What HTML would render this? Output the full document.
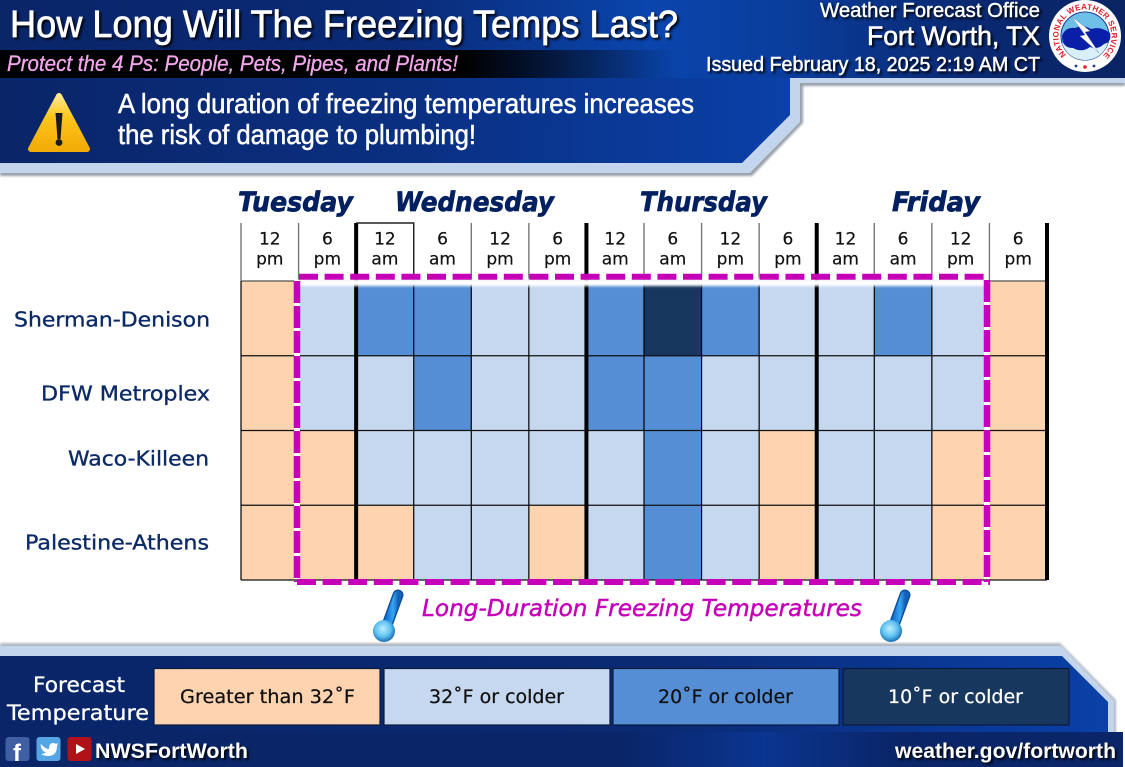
<!DOCTYPE html>
<html lang="en">
<head>
<meta charset="utf-8">
<title>How Long Will The Freezing Temps Last?</title>
<style>
html,body{margin:0;padding:0;background:#fff;width:1125px;height:767px;overflow:hidden}
svg{display:block}
text{font-family:"Liberation Sans",sans-serif}
.dj{font-family:"DejaVu Sans",sans-serif}
.shadow{filter:drop-shadow(2px 2px 1px rgba(0,0,0,.85))}
</style>
</head>
<body>
<svg id="graphic" xmlns="http://www.w3.org/2000/svg" width="1125" height="767" viewBox="0 0 1125 767">
<defs>
<linearGradient id="headGrad" x1="0" x2="1" y1="0" y2="0">
<stop offset="0" stop-color="#0a2568"/><stop offset=".35" stop-color="#0a2a76"/><stop offset=".58" stop-color="#0a45ad"/><stop offset=".7" stop-color="#0a3d9c"/><stop offset=".85" stop-color="#0a2a74"/><stop offset="1" stop-color="#0a2363"/>
</linearGradient>
<linearGradient id="panelGrad" x1="0" x2="1" y1="0" y2="0">
<stop offset="0" stop-color="#0a2568"/><stop offset=".5" stop-color="#0a2f80"/><stop offset="1" stop-color="#0a40a8"/>
</linearGradient>
<linearGradient id="stripGrad" x1="0" x2="1" y1="0" y2="0">
<stop offset="0" stop-color="#000"/><stop offset=".68" stop-color="#000"/><stop offset="1" stop-color="#000" stop-opacity="0"/>
</linearGradient>
<linearGradient id="bottomGrad" x1="0" x2="1" y1="0" y2="0">
<stop offset="0" stop-color="#0a2568"/><stop offset=".6" stop-color="#0a2a74"/><stop offset="1" stop-color="#0a40a8"/>
</linearGradient>
<linearGradient id="footGrad" x1="0" x2="1" y1="0" y2="0">
<stop offset="0" stop-color="#0a2568"/><stop offset=".55" stop-color="#0a2568"/><stop offset=".68" stop-color="#0a3590"/><stop offset=".8" stop-color="#0a2568"/><stop offset="1" stop-color="#0a2568"/>
</linearGradient>
<linearGradient id="yellowGrad" x1="0" x2="0" y1="0" y2="1">
<stop offset="0" stop-color="#ffe98a"/><stop offset=".4" stop-color="#fcc61c"/><stop offset="1" stop-color="#f3ab06"/>
</linearGradient>
<linearGradient id="stemGrad" x1="0" x2="1" y1="0" y2="0">
<stop offset="0" stop-color="#0f6fd6"/><stop offset=".6" stop-color="#39a6f2"/><stop offset="1" stop-color="#1262b8"/>
</linearGradient>
<radialGradient id="bulbGrad" cx=".45" cy=".4" r=".6">
<stop offset="0" stop-color="#bdeeff"/><stop offset=".6" stop-color="#5cc0f0"/><stop offset="1" stop-color="#1c6cb0"/>
</radialGradient>
<filter id="softBlur" x="-5%" y="-100%" width="110%" height="300%"><feGaussianBlur stdDeviation="1.4"/></filter>
<filter id="edgeBlur" x="-2%" y="-5%" width="104%" height="110%"><feGaussianBlur stdDeviation="1"/></filter>
<path id="sealCircle" d="M 1066.3 54.7 A 26.5 26.5 0 1 1 1103.7 54.7"/>
</defs>

<!-- Header panel -->
<g>
<polygon points="0,163 742,163 790,115 790,78 1125,78 1125,86 803,86 803,123 752,176 0,176" fill="#9aa1ab" filter="url(#edgeBlur)"/>
<polygon points="0,163 742,163 790,115 790,78 1125,78 1125,83 800,83 800,122 750,173 0,173" fill="#c3d5ec"/>
<rect x="0" y="0" width="1125" height="78" fill="url(#headGrad)"/>
<polygon points="0,78 790,78 790,115 742,163 0,163" fill="url(#panelGrad)"/>
<rect x="0" y="50" width="680" height="28" fill="url(#stripGrad)"/>
<text class="shadow" x="10" y="37" font-size="38" fill="#fff" stroke="#fff" stroke-width=".7" textLength="668" lengthAdjust="spacingAndGlyphs">How Long Will The Freezing Temps Last?</text>
<text x="7" y="71" font-size="22" font-style="italic" fill="#f2a6ec" stroke="#f2a6ec" stroke-width=".3" textLength="451" lengthAdjust="spacingAndGlyphs">Protect the 4 Ps: People, Pets, Pipes, and Plants!</text>
<text class="shadow" x="1040" y="17" font-size="20" fill="#fff" stroke="#fff" stroke-width=".4" text-anchor="end" textLength="220" lengthAdjust="spacingAndGlyphs">Weather Forecast Office</text>
<text class="shadow" x="1040" y="45" font-size="27" fill="#fff" stroke="#fff" stroke-width=".6" text-anchor="end" textLength="173" lengthAdjust="spacingAndGlyphs">Fort Worth, TX</text>
<text class="shadow" x="1040" y="71" font-size="20" fill="#fff" stroke="#fff" stroke-width=".45" text-anchor="end" textLength="334" lengthAdjust="spacingAndGlyphs">Issued February 18, 2025 2:19 AM CT</text>
<text x="118" y="113" font-size="28" fill="#fff" stroke="#fff" stroke-width=".5" textLength="576" lengthAdjust="spacingAndGlyphs">A long duration of freezing temperatures increases</text>
<text x="118" y="144" font-size="28" fill="#fff" stroke="#fff" stroke-width=".5" textLength="358" lengthAdjust="spacingAndGlyphs">the risk of damage to plumbing!</text>
</g>

<!-- Warning icon -->
<g>
<polygon points="59,96 31,149 87,149" fill="url(#yellowGrad)" stroke="url(#yellowGrad)" stroke-width="6" stroke-linejoin="round"/>
<polygon points="55.5,113 62.5,113 60.5,139 57.5,139" fill="#1a1a1a"/>
<circle cx="59" cy="142.5" r="3.4" fill="#1a1a1a"/>
</g>

<!-- NWS seal -->
<g>
<circle cx="1085" cy="36" r="36" fill="#fff"/>
<circle cx="1085" cy="36" r="24" fill="#6fc0e8" stroke="#1b3c94" stroke-width="1"/>
<path d="M1062 43 A24 24 0 0 0 1108 43 Z" fill="#d8f0fa"/>
<path d="M1062 36 Q1065 27 1075 28 Q1083 24 1091 29 Q1101 26 1110 33 Q1112 42 1104 44 Q1098 50 1090 47 Q1082 53 1073 48 Q1062 48 1062 36 Z" fill="#0a1fa8"/>
<polygon points="1072,17 1090,31 1085,32 1099,53 1080,36 1085,35" fill="#fff" stroke="#8899aa" stroke-width=".5"/>
<text font-size="8" font-weight="bold" fill="#e21d2d" letter-spacing=".25"><textPath href="#sealCircle" startOffset="0">NATIONAL WEATHER SERVICE</textPath></text>
<circle cx="1076" cy="66" r="1.4" fill="#1b3c94"/><circle cx="1094" cy="66" r="1.4" fill="#1b3c94"/><circle cx="1085" cy="67" r="1.8" fill="#e21d2d"/>
</g>

<!-- Day labels -->
<g fill="#002060" stroke="#002060" stroke-width=".7" font-size="27" font-weight="bold" font-style="italic">
<text class="dj" x="238" y="211" textLength="115" lengthAdjust="spacingAndGlyphs">Tuesday</text>
<text class="dj" x="395" y="211" textLength="159" lengthAdjust="spacingAndGlyphs">Wednesday</text>
<text class="dj" x="640" y="211" textLength="127" lengthAdjust="spacingAndGlyphs">Thursday</text>
<text class="dj" x="892" y="211" textLength="88" lengthAdjust="spacingAndGlyphs">Friday</text>
</g>

<!-- Row labels -->
<g fill="#0b2a66" stroke="#0b2a66" stroke-width=".35" font-size="20.5">
<text class="dj" x="14" y="326.5" textLength="196" lengthAdjust="spacingAndGlyphs">Sherman-Denison</text>
<text class="dj" x="41" y="400.5" textLength="169" lengthAdjust="spacingAndGlyphs">DFW Metroplex</text>
<text class="dj" x="68" y="465.5" textLength="141" lengthAdjust="spacingAndGlyphs">Waco-Killeen</text>
<text class="dj" x="25" y="549.5" textLength="184" lengthAdjust="spacingAndGlyphs">Palestine-Athens</text>
</g>

<!-- Heatmap drawn by script -->
<g id="heatmap"></g>

<!-- Freezing duration outline -->
<g fill="none">
<rect x="299" y="279" width="687" height="7" fill="#fff" filter="url(#softBlur)"/>
<line x1="297" y1="280" x2="297" y2="579" stroke="#fff" stroke-width="6"/>
<line x1="987" y1="280" x2="987" y2="579" stroke="#fff" stroke-width="6"/>
<line x1="299" y1="276.8" x2="984" y2="276.8" stroke="#c600b8" stroke-width="6" stroke-dasharray="19 6.6"/>
<line x1="297" y1="281" x2="297" y2="582" stroke="#c600b8" stroke-width="6.5" stroke-dasharray="22 3"/>
<line x1="987" y1="280" x2="987" y2="582" stroke="#c600b8" stroke-width="6.5" stroke-dasharray="22 3"/>
<line x1="297" y1="582" x2="990" y2="582" stroke="#c600b8" stroke-width="6" stroke-dasharray="19 6.6"/>
</g>

<text class="dj" x="422" y="616" font-size="23" font-style="italic" fill="#c600b8" stroke="#c600b8" stroke-width=".45" textLength="440" lengthAdjust="spacingAndGlyphs">Long-Duration Freezing Temperatures</text>

<g>
<line x1="398" y1="595" x2="386" y2="628" stroke="#0d4f9e" stroke-width="11" stroke-linecap="round"/>
<line x1="398" y1="595" x2="386" y2="628" stroke="url(#stemGrad)" stroke-width="8" stroke-linecap="round"/>
<circle cx="384" cy="631" r="11" fill="url(#bulbGrad)"/>
</g>
<g>
<line x1="905" y1="595" x2="893" y2="628" stroke="#0d4f9e" stroke-width="11" stroke-linecap="round"/>
<line x1="905" y1="595" x2="893" y2="628" stroke="url(#stemGrad)" stroke-width="8" stroke-linecap="round"/>
<circle cx="891" cy="631" r="11" fill="url(#bulbGrad)"/>
</g>

<!-- Bottom panel -->
<g>
<polygon points="0,643 1060,643 1116,700 1116,735 0,735" fill="#b4bac3" filter="url(#edgeBlur)"/>
<polygon points="0,646 1061,646 1114,701 1114,735 0,735" fill="#c3d5ec"/>
<polygon points="0,656 1062,656 1108,702 1108,735 0,735" fill="url(#bottomGrad)"/>
<rect x="0" y="732" width="1123" height="35" fill="url(#footGrad)"/>
<text class="dj" x="33" y="692" font-size="21" fill="#fff" stroke="#fff" stroke-width=".3" textLength="92" lengthAdjust="spacingAndGlyphs">Forecast</text>
<text class="dj" x="7" y="720" font-size="21" fill="#fff" stroke="#fff" stroke-width=".3" textLength="142" lengthAdjust="spacingAndGlyphs">Temperature</text>

<g>
<rect x="154" y="668.5" width="226" height="56.5" fill="#fdd3b0" stroke="#0a1a3c" stroke-width="1.2"/>
<text class="dj" x="180" y="703" font-size="19" fill="#111" stroke="#111" stroke-width=".25" textLength="175" lengthAdjust="spacingAndGlyphs">Greater than 32˚F</text>
</g>
<g>
<rect x="384" y="668.5" width="226" height="56.5" fill="#c6d8f0" stroke="#0a1a3c" stroke-width="1.2"/>
<text class="dj" x="429" y="703" font-size="19" fill="#111" stroke="#111" stroke-width=".25" textLength="135" lengthAdjust="spacingAndGlyphs">32˚F or colder</text>
</g>
<g>
<rect x="613" y="668.5" width="226" height="56.5" fill="#558ed5" stroke="#0a1a3c" stroke-width="1.2"/>
<text class="dj" x="658" y="703" font-size="19" fill="#111" stroke="#111" stroke-width=".25" textLength="135" lengthAdjust="spacingAndGlyphs">20˚F or colder</text>
</g>
<g>
<rect x="843" y="668.5" width="226" height="56.5" fill="#17375e" stroke="#0a1a3c" stroke-width="1.2"/>
<text class="dj" x="888" y="703" font-size="19" fill="#fff" stroke="#fff" stroke-width=".25" textLength="135" lengthAdjust="spacingAndGlyphs">10˚F or colder</text>
</g>

<g>
<rect x="5.5" y="737" width="24" height="24" rx="3" fill="#3f5ea3"/>
<text x="13" y="761" font-size="24" font-weight="bold" fill="#fff">f</text>
</g>
<g>
<rect x="36.5" y="737" width="24" height="24" rx="3" fill="#56a6e6"/>
<path d="M41 744 Q45 749 49 749 Q49 743 53 743 Q55 743 56 744 L58 743 L57 746 Q57 756 48 756 Q44 756 41 754 Q44 754 46 752 Q43 752 42 749 Q40 747 41 744 Z" fill="#fff"/>
</g>
<g>
<rect x="67.5" y="737" width="24" height="24" rx="3" fill="#b01218"/>
<polygon points="76,744 76,754 85,749" fill="#fff"/>
</g>
<text class="shadow" x="95" y="758" font-size="21" font-weight="bold" fill="#fff" textLength="153" lengthAdjust="spacingAndGlyphs">NWSFortWorth</text>
<text class="shadow" x="895" y="758" font-size="21" font-weight="bold" fill="#fff" textLength="221" lengthAdjust="spacingAndGlyphs">weather.gov/fortworth</text>
</g>
</svg>

<script>
// Hour labels (Tuesday 12 pm through Friday 6 pm)
const hourLabels = ['12','6','12','6','12','6','12','6','12','6','12','6','12','6'];
const meridiemLabels = ['pm','pm','am','am','pm','pm','am','am','pm','pm','am','am','pm','pm'];

// Temperature tier by period: 0 = above 32F, 1 = 32F or colder, 2 = 20F or colder, 3 = 10F or colder
const regions = ['sherman-denison','dfw-metroplex','waco-killeen','palestine-athens'];
const shermanDenison = [0,1,2,2,1,1,2,3,2,1,1,2,1,0];
const dfwMetroplex   = [0,1,1,2,1,1,2,2,1,1,1,1,1,0];
const wacoKilleen    = [0,0,1,1,1,1,1,2,1,0,1,1,0,0];
const palestineAthens= [0,0,0,1,1,0,1,2,1,0,1,1,0,0];
const tierSeries = [shermanDenison, dfwMetroplex, wacoKilleen, palestineAthens];

const SVG_NS = 'http://www.w3.org/2000/svg';
const GRID_LEFT = 241, GRID_RIGHT = 1047, HEAD_TOP = 223, GRID_TOP = 281, GRID_BOTTOM = 580;
const root = document.getElementById('heatmap');
function xBand(i){ return GRID_LEFT + i * (GRID_RIGHT - GRID_LEFT) / hourLabels.length; }
function yBand(r){ return GRID_TOP + r * (GRID_BOTTOM - GRID_TOP) / regions.length; }
function tierColor(t){
  if (t === 0) return '#fdd3b0';
  if (t === 1) return '#c6d8f0';
  if (t === 2) return '#558ed5';
  return '#17375e';
}
function svgEl(tag, attrs){
  const el = document.createElementNS(SVG_NS, tag);
  for (const k in attrs) el.setAttribute(k, attrs[k]);
  root.appendChild(el);
  return el;
}

tierSeries.forEach(function(series, r){
  series.forEach(function(tier, c){
    const cell = svgEl('rect', {x:xBand(c), y:yBand(r), width:xBand(c+1)-xBand(c), height:yBand(r+1)-yBand(r), fill:tierColor(tier)});
    
    
  });
});

for (let r = 0; r <= regions.length; r++) {
  const rowLine = svgEl('line', {x1:GRID_LEFT, x2:GRID_RIGHT, y1:yBand(r), y2:yBand(r), stroke: r === 0 ? '#555' : '#111', 'stroke-width':1.3});
  
  
}

for (let c = 0; c <= hourLabels.length; c++) {
  const isDayStart = c % 4 === 2;
  const headLine = svgEl('line', {x1:xBand(c), x2:xBand(c), y1:HEAD_TOP, y2:GRID_TOP, stroke: isDayStart ? '#000' : '#777', 'stroke-width': isDayStart ? 4 : 1.4});
  
  
  const bodyLine = svgEl('line', {x1:xBand(c), x2:xBand(c), y1:GRID_TOP, y2:GRID_BOTTOM, stroke:'#000', 'stroke-width': isDayStart ? 4 : 1.2});
  
  
}

const currentBox = svgEl('path', {d:'M' + xBand(2) + ' ' + HEAD_TOP + 'H' + xBand(3) + 'V' + GRID_TOP, fill:'none', stroke:'#222', 'stroke-width':1.4});



hourLabels.forEach(function(label, c){
  const cx = (xBand(c) + xBand(c+1)) / 2;
  const hour = svgEl('text', {x:cx, y:244.5, 'text-anchor':'middle', 'font-size':17, fill:'#111', stroke:'#111', 'stroke-width':0.2, class:'dj'});
  hour.textContent = label;
  
  
  const mer = svgEl('text', {x:cx, y:264.5, 'text-anchor':'middle', 'font-size':17, fill:'#111', stroke:'#111', 'stroke-width':0.2, class:'dj'});
  mer.textContent = meridiemLabels[c];
  
  
});
</script>
</body>
</html>
